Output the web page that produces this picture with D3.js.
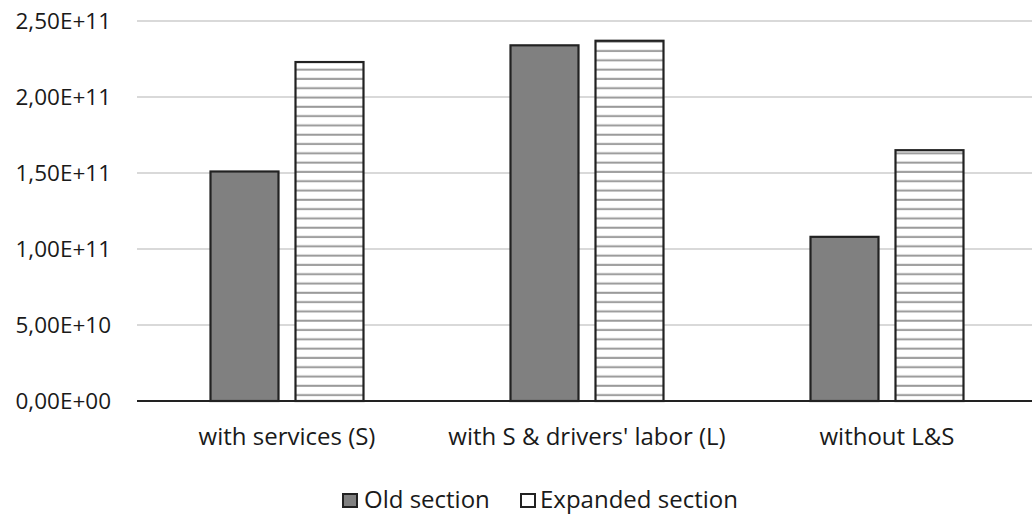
<!DOCTYPE html>
<html><head><meta charset="utf-8">
<script src="https://cdn.jsdelivr.net/npm/d3@7"></script>
<style>body{margin:0;background:#fff}svg{display:block}text{font-family:"Open Sans",Lato,sans-serif;fill:#1a1a1a}</style>
</head><body><svg id="c" width="1032" height="515"></svg>
<script>
const categories = ["with services (S)", "with S & drivers' labor (L)", "without L&S"];
const seriesNames = ["Old section", "Expanded section"];
const oldSection = [1.51e11, 2.34e11, 1.08e11];
const expandedSection = [2.23e11, 2.37e11, 1.65e11];
const yTicks = [0, 5e10, 1e11, 1.5e11, 2e11, 2.5e11];
const yTickLabels = ["0,00E+00","5,00E+10","1,00E+11","1,50E+11","2,00E+11","2,50E+11"];

const svg = d3.select("#c");
const defs = svg.append("defs");
const pat = defs.append("pattern").attr("id","stripes").attr("patternUnits","userSpaceOnUse")
  .attr("width",10).attr("height",9.3);
pat.append("rect").attr("width",10).attr("height",9.3).attr("fill","#fff");
pat.append("rect").attr("y",3.5).attr("width",10).attr("height",2).attr("fill","#9a9a9a");

const x0 = d3.scaleBand().domain(categories).range([137,1037]);
const x1 = d3.scaleBand().domain(seriesNames).range([0,153]).paddingInner(0.2);
const y = d3.scaleLinear().domain([0,2.5e11]).range([401,21]);

// gridlines
svg.append("g").selectAll("line").data(yTicks.slice(1)).join("line")
  .attr("x1",137).attr("x2",1032).attr("y1",d=>y(d)).attr("y2",d=>y(d))
  .attr("stroke","#d9d9d9").attr("stroke-width",2);

// y labels
svg.append("g").selectAll("text").data(yTicks).join("text")
  .attr("x",111).attr("y",d=>y(d)).attr("dy","0.35em").attr("text-anchor","end")
  .attr("font-size",22.5).text((d,i)=>yTickLabels[i]);

const data = categories.map((c,i)=>({c, vals:[oldSection[i], expandedSection[i]]}));
const fills = ["#808080","url(#stripes)"];
const g = svg.append("g");
data.forEach(d=>{
  const off = x0(d.c) + (x0.bandwidth()-153)/2;
  d.vals.forEach((v,j)=>{
    g.append("rect").attr("x",off + x1(seriesNames[j])).attr("y",y(v))
      .attr("width",x1.bandwidth()).attr("height",y(0)-y(v))
      .attr("fill",fills[j]).attr("stroke","#222").attr("stroke-width",2.2);
  });
});

// x axis line
svg.append("line").attr("x1",137).attr("x2",1032).attr("y1",y(0)).attr("y2",y(0))
  .attr("stroke","#222").attr("stroke-width",2);

// x labels
svg.append("g").selectAll("text").data(categories).join("text")
  .attr("x",d=>x0(d)+x0.bandwidth()/2).attr("y",445).attr("text-anchor","middle")
  .attr("font-size",24).text(d=>d);

// legend
const leg = svg.append("g");
const legItems = [{n:seriesNames[0], x:343, tx:364, f:"#808080"},{n:seriesNames[1], x:521, tx:540, f:"#fff"}];
legItems.forEach(it=>{
  leg.append("rect").attr("x",it.x).attr("y",494).attr("width",14).attr("height",13)
    .attr("fill",it.f).attr("stroke","#222").attr("stroke-width",2);
  leg.append("text").attr("x",it.tx).attr("y",508).attr("font-size",24).text(it.n);
});
</script></body></html>
